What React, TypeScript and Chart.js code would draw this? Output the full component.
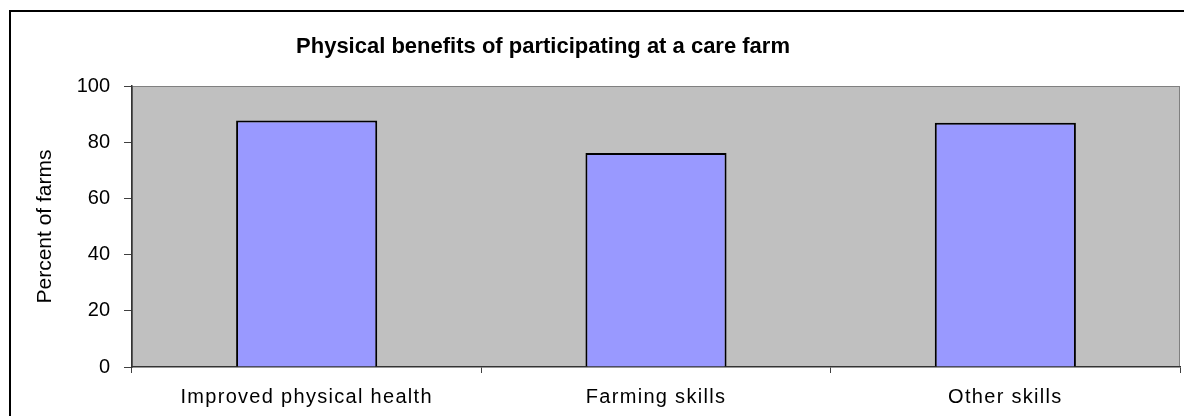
import React, { useEffect, useRef } from "react";
import { Chart, registerables } from "chart.js";

Chart.register(...registerables);

const categories = ["Improved physical health", "Farming skills", "Other skills"];
const percentOfFarms = [87.7, 76.2, 86.9];
const yMin = 0;
const yMax = 100;
const yStep = 20;
const chartTitle = "Physical benefits of participating at a care farm";
const yAxisTitle = "Percent of farms";

const FONT = '"Liberation Sans", Arial, sans-serif';

const framePlugin = {
  id: "frame",
  beforeDraw(chart: any) {
    const { ctx, chartArea } = chart;
    ctx.save();
    ctx.fillStyle = "#ffffff";
    ctx.fillRect(0, 0, chart.width, chart.height);
    ctx.strokeStyle = "#000000";
    ctx.lineWidth = 2;
    ctx.strokeRect(10, 11, 1190, 500);
    ctx.fillStyle = "#C0C0C0";
    ctx.fillRect(chartArea.left, chartArea.top, chartArea.right - chartArea.left, chartArea.bottom - chartArea.top);
    ctx.strokeStyle = "#808080";
    ctx.lineWidth = 1;
    ctx.strokeRect(chartArea.left + 0.5, chartArea.top + 0.5, chartArea.right - chartArea.left - 1, chartArea.bottom - chartArea.top - 1);
    ctx.fillStyle = "#000000";
    ctx.font = `bold 22px ${FONT}`;
    ctx.textAlign = "center";
    ctx.textBaseline = "alphabetic";
    ctx.fillText(chartTitle, 543, 53);
    ctx.restore();
  },
  afterDatasetsDraw(chart: any) {
    (chart.ctx as any).letterSpacing = "1.3px";
  },
  afterDraw(chart: any) {
    (chart.ctx as any).letterSpacing = "0px";
  },
};

export default function App() {
  const ref = useRef<HTMLCanvasElement>(null);
  useEffect(() => {
    if (!ref.current) return;
    const chart = new Chart(ref.current, {
      type: "bar",
      data: {
        labels: categories,
        datasets: [
          {
            data: percentOfFarms,
            backgroundColor: "#9999FF",
            borderColor: "#000000",
            borderWidth: 2,
            barPercentage: 0.404,
            categoryPercentage: 1,
          },
        ],
      },
      options: {
        animation: false,
        responsive: false,
        devicePixelRatio: 1,
        layout: { padding: { left: 0, top: 86, right: 4, bottom: 0 } },
        plugins: {
          legend: { display: false },
          tooltip: { enabled: false },
          title: { display: false },
        },
        scales: {
          x: {
            grid: {
              display: true,
              offset: true,
              drawOnChartArea: false,
              tickLength: 6,
              color: "#404040",
              lineWidth: 1,
            },
            border: { display: true, color: "#333333", width: 1.5 },
            ticks: {
              font: { family: FONT, size: 20 },
              color: "#000000",
              padding: 12,
              z: 1,
              maxRotation: 0,
              autoSkip: false,
            },
            afterFit: (s: any) => {
              s.height = 49;
            },
          },
          y: {
            min: yMin,
            max: yMax,
            ticks: {
              stepSize: yStep,
              font: { family: FONT, size: 20 },
              color: "#000000",
              padding: 14,
            },
            grid: {
              drawOnChartArea: false,
              tickLength: 8,
              color: "#404040",
            },
            border: { display: true, color: "#333333", width: 1.5 },
            title: {
              display: true,
              text: yAxisTitle,
              font: { family: FONT, size: 21 },
              color: "#000000",
              padding: { top: 33, bottom: 0 },
            },
            afterFit: (s: any) => {
              s.width = 132;
            },
          },
        },
      },
      plugins: [framePlugin],
    } as any);
    return () => chart.destroy();
  }, []);
  return (
    <div style={{ position: "fixed", left: 0, top: 0, width: 1184, height: 416, background: "#fff" }}>
      <canvas ref={ref} width={1184} height={416} style={{ display: "block" }} />
    </div>
  );
}
